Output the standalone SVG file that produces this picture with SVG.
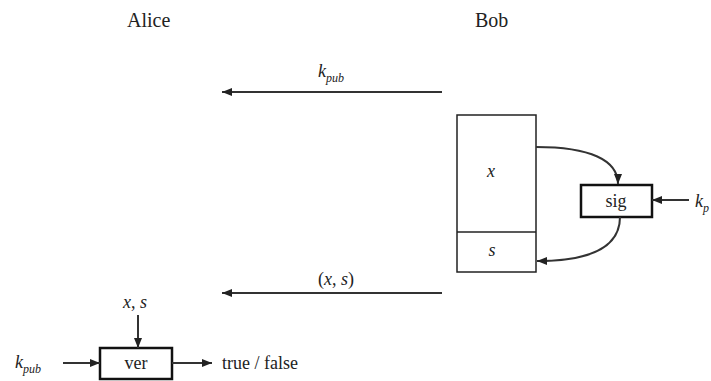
<svg xmlns="http://www.w3.org/2000/svg" width="711" height="381" viewBox="0 0 711 381" font-family="'Liberation Serif', 'Times New Roman', serif">
<defs>
<marker id="ah" viewBox="0 0 10 8" refX="10" refY="4" markerWidth="10" markerHeight="8" markerUnits="userSpaceOnUse" orient="auto">
<path d="M0,0 L10,4 L0,8 Z" fill="#222"/>
</marker>
<style>
text{font-family:'Liberation Serif','Times New Roman',serif;fill:#222}
.t{font-size:18px}
.h{font-size:20px}
.i{font-style:italic}
.sub{font-size:12px;font-style:italic}
.ln{stroke:#333;stroke-width:2;fill:none}
.box{fill:#fff;stroke:#222;stroke-width:1.5}
.tb{fill:#fff;stroke:#111;stroke-width:2.5}
</style>
</defs>
<rect width="711" height="381" fill="#fff"/>
<g id="alice"><text class="h" x="127" y="27">Alice</text></g>
<g id="bob"><text class="h" x="475" y="27">Bob</text></g>
<g id="msgbox">
<rect class="box" x="457" y="115" width="79" height="157"/>
<line class="box" x1="457" y1="232" x2="536" y2="232"/>
<text class="t i" x="491" y="177" text-anchor="middle">x</text>
<text class="t i" x="492" y="256" text-anchor="middle">s</text>
</g>
<g id="sig">
<rect class="tb" x="581" y="185" width="71" height="32"/>
<text class="t" x="616" y="207" text-anchor="middle">sig</text>
</g>
<g id="ver">
<rect class="tb" x="100" y="348" width="72" height="31"/>
<text class="t" x="136" y="369" text-anchor="middle">ver</text>
</g>
<g id="connectors">
<line class="ln" x1="442" y1="92" x2="222" y2="92" marker-end="url(#ah)"/>
<line class="ln" x1="442" y1="293" x2="222" y2="293" marker-end="url(#ah)"/>
<path class="ln" d="M536,147 C590,147 618,160 618,184" marker-end="url(#ah)"/>
<path class="ln" d="M620,217 C620,245 595,261 537,261" marker-end="url(#ah)"/>
<line class="ln" x1="689" y1="200" x2="652" y2="200" marker-end="url(#ah)"/>
<line class="ln" x1="138" y1="315" x2="138" y2="348" marker-end="url(#ah)"/>
<line class="ln" x1="63" y1="363" x2="100" y2="363" marker-end="url(#ah)"/>
<line class="ln" x1="172" y1="363" x2="212" y2="363" marker-end="url(#ah)"/>
</g>
<g id="labels">
<text class="t i" x="318" y="77">k<tspan class="sub" dy="5">pub</tspan></text>
<text class="t" x="318" y="285">(<tspan class="i">x</tspan>, <tspan class="i">s</tspan>)</text>
<text class="t i" x="695" y="207">k<tspan class="sub" dy="5">p</tspan></text>
<text class="t" x="123" y="308"><tspan class="i">x</tspan>, <tspan class="i">s</tspan></text>
<text class="t i" x="15" y="368">k<tspan class="sub" dy="5">pub</tspan></text>
<text class="t" x="222" y="369">true / false</text>
</g>
</svg>
